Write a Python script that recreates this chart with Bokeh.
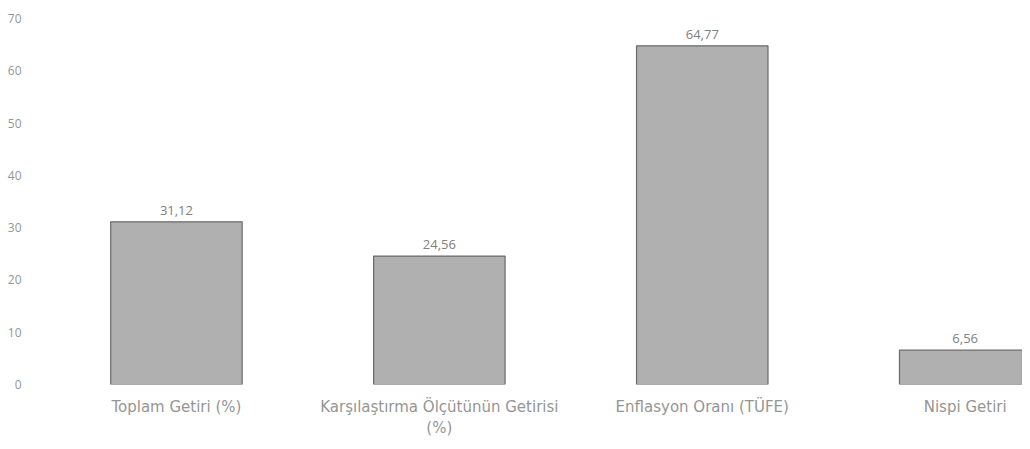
from bokeh.plotting import figure
from bokeh.models import Range1d, FixedTicker, ColumnDataSource
from bokeh.core.properties import value
from bokeh.embed import file_html
from bokeh.resources import INLINE

categories = ["Toplam Getiri (%)", "Karşılaştırma Ölçütünün Getirisi\n(%)", "Enflasyon Oranı (TÜFE)", "Nispi Getiri"]
values = [31.12, 24.56, 64.77, 6.56]
value_labels = ["31,12", "24,56", "64,77", "6,56"]
y_ticks = [0, 10, 20, 30, 40, 50, 60, 70]

xs = list(range(len(categories)))
src = ColumnDataSource(dict(x=xs, top=values, lab=value_labels))

p = figure(width=1022, height=440, output_backend="svg", toolbar_location=None,
           x_range=Range1d(-0.498, 3.218), y_range=Range1d(0, 70),
           min_border_left=45, min_border_right=0, min_border_top=18, min_border_bottom=55)
p.outline_line_color = None
p.background_fill_color = "white"
p.xgrid.grid_line_color = None
p.ygrid.grid_line_color = None

p.vbar(x="x", top="top", width=0.5, bottom=0, source=src,
       fill_color="#b0b0b0", line_color="#6a6a6a", line_width=1.2)

p.text(x="x", y="top", text="lab", source=src, text_align="center", text_baseline="bottom",
       y_offset=-7, text_font=value("Open Sans"), text_font_size="13px", text_color="#808080")

for ax in (p.xaxis[0], p.yaxis[0]):
    ax.axis_line_color = None
    ax.major_tick_line_color = None
    ax.minor_tick_line_color = None
    ax.major_label_text_color = "#959595"

p.yaxis.ticker = FixedTicker(ticks=y_ticks)
p.yaxis.major_label_text_font = "Open Sans"
p.yaxis.major_label_text_font_size = "12px"
p.yaxis.major_label_standoff = 18

p.xaxis.ticker = FixedTicker(ticks=xs)
p.xaxis.major_label_overrides = {i: c for i, c in zip(xs, categories)}
p.xaxis.major_label_text_font = "DejaVu Sans"
p.xaxis.major_label_text_font_size = "15px"
p.xaxis.major_label_standoff = 7

open("out.html", "w").write(file_html(p, INLINE))
